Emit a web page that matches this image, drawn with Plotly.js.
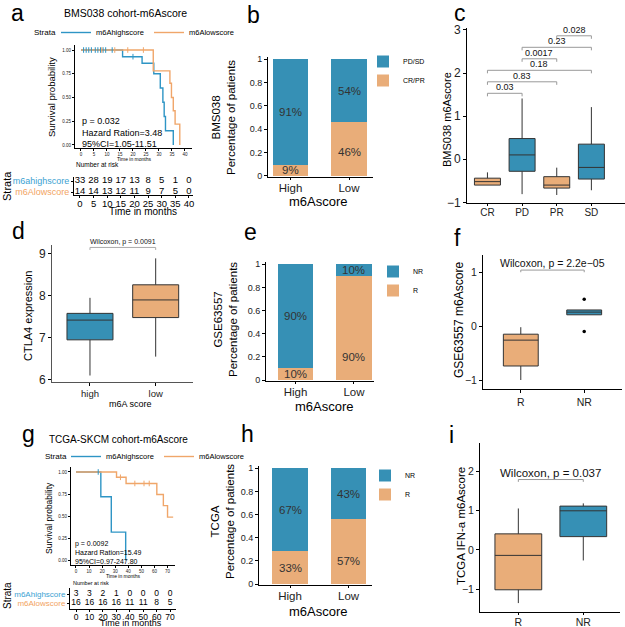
<!DOCTYPE html>
<html><head><meta charset="utf-8">
<script src="https://cdn.plot.ly/plotly-3.0.1.min.js"></script>
<style>html,body{margin:0;padding:0;background:#fff}#chart{width:625px;height:627px}</style>
</head><body><div id="chart"></div>
<script>
// ---------------- data ----------------
// a: BMS038 Kaplan-Meier
const aHighTime=[0,16,23.5,28,30.5,31.5,32,32.5,35.5];
const aHighSurv=[1,0.93,0.86,0.75,0.60,0.45,0.30,0.15,0];
const aLowTime=[0,27.8,34.2,34.8,35.5,36.2,38];
const aLowSurv=[1,0.78,0.65,0.50,0.36,0.22,0];
const aHighCensor=[1,2,3,4,5.5,6.5,7.5,8.5,9.5,12,20];
const aLowCensor=[8,13,18,24];
const aRiskTimes=[0,5,10,15,20,25,30,35,40];
const aRiskHigh=[33,28,19,17,13,8,5,1,0];
const aRiskLow=[14,14,13,12,11,9,7,5,0];
const aStats=['p = 0.032','Hazard Ration=3.48','95%CI=1.05-11.51'];
// g: TCGA-SKCM Kaplan-Meier
const gHighTime=[0,19,27,38];
const gHighSurv=[1,0.72,0.32,0];
const gLowTime=[0,31,38.3,61.8,66.8,70,74.3];
const gLowSurv=[1,0.94,0.87,0.745,0.62,0.49,0.49];
const gHighCensor=[17];
const gLowCensor=[34,45,52,56];
const gRiskTimes=[0,10,20,30,40,50,60,70];
const gRiskHigh=[3,3,2,1,0,0,0,0];
const gRiskLow=[16,16,16,16,11,11,8,5];
const gStats=['p = 0.0092','Hazard Ration=15.49','95%CI=0.97-247.80'];
const kmTicks=[0,0.25,0.5,0.75,1];
const kmTickText=['0.00','0.25','0.50','0.75','1.00'];
// b, e, h: stacked bars
const barCats=['High','Low'];
const bResp=[0.09,0.46], bNon=[0.91,0.54];
const bRespLbl=['9%','46%'], bNonLbl=['91%','54%'];
const eResp=[0.10,0.90], eNon=[0.90,0.10];
const eRespLbl=['10%','90%'], eNonLbl=['90%','10%'];
const hResp=[0.285,0.56], hNon=[0.715,0.44];
const hRespLbl=['33%','57%'], hNonLbl=['67%','43%'];
const pctTicks=[0,0.2,0.4,0.6,0.8,1];
const pctTickText=['0','0.2','0.4','0.6','0.8','1'];
// c: BMS038 m6Ascore by response
const cCats=['CR','PD','PR','SD'];
const cQ1=[-0.60,-0.28,-0.67,-0.46];
const cMed=[-0.52,0.10,-0.60,-0.19];
const cQ3=[-0.44,0.48,-0.405,0.35];
const cLo=[-0.60,-0.81,-0.83,-0.72];
const cHi=[-0.305,1.41,-0.196,1.21];
const cPairs=[['CR','PD'],['CR','PR'],['CR','SD'],['PD','PR'],['PD','SD'],['PR','SD']];
const cPvals=['0.03','0.83','0.18','0.0017','0.23','0.028'];
// d: CTLA4 expression
const dCats=['high','low'];
const dQ1=[6.94,7.47], dMed=[7.41,7.89], dQ3=[7.57,8.25], dLo=[6.09,6.54], dHi=[7.94,8.88];
const dTest='Wilcoxon, p = 0.0091';
// f: GSE63557
const fCats=['R','NR'];
const fQ1=[-0.74,0.21], fMed=[-0.26,0.26], fQ3=[-0.15,0.30], fLo=[-1.0,0.21], fHi=[-0.02,0.30];
const fOutX=['NR','NR'], fOutY=[0.50,-0.10];
const fTest='Wilcoxon, p = 2.2e\u221205';
// i: TCGA IFN-a
const iCats=['R','NR'];
const iQ1=[-1.02,0.34], iMed=[-0.14,1.0], iQ3=[0.41,1.12], iLo=[-1.36,-0.27], iHi=[1.06,1.19];
const iTest='Wilcoxon, p = 0.037';

// ---------------- styling helpers ----------------
const BLUE='#3690B5', ORANGE='#E9AD79', KBLUE='#2E95C5', KORANGE='#F0A66A';
const TBLUE='#3BA2D2', TORANGE='#F2A462';
const FONT='Liberation Sans, Arial, Helvetica, sans-serif';
const W=625,H=627;
const px=x=>x/W, py=y=>1-y/H;
const dX=(a,b)=>[a/W,b/W], dY=(t,b)=>[1-b/H,1-t/H];

function survAt(times,surv,t){let s=surv[0];for(let k=0;k<times.length;k++){if(times[k]<=t)s=surv[k];}return s;}

const traces=[];
const ann=[];

function km(t,s,color,name,xa,ya,leg){
  traces.push({type:'scatter',mode:'lines',x:t,y:s,line:{shape:'hv',color:color,width:1.4},name:name,
    xaxis:xa,yaxis:ya,legend:leg,showlegend:true,hoverinfo:'skip'});
}
function censor(ct,t,s,color,xa,ya){
  traces.push({type:'scatter',mode:'markers',x:ct,y:ct.map(v=>survAt(t,s,v)),
    marker:{symbol:'line-ns-open',size:4,color:color,line:{color:color,width:1}},
    xaxis:xa,yaxis:ya,showlegend:false,hoverinfo:'skip'});
}
function riskRow(times,vals,row,xa,ya,size){
  traces.push({type:'scatter',mode:'text',x:times,y:times.map(()=>row),text:vals.map(String),
    textfont:{family:FONT,size:size,color:'#000'},xaxis:xa,yaxis:ya,showlegend:false,hoverinfo:'skip',cliponaxis:false});
}
function bars(cats,resp,non,respName,nonName,respL,nonL,xa,ya,leg){
  traces.push({type:'bar',x:cats,y:resp,name:respName,marker:{color:ORANGE,line:{width:0}},width:0.6,
    xaxis:xa,yaxis:ya,legend:leg,hoverinfo:'skip'});
  traces.push({type:'bar',x:cats,y:non,name:nonName,marker:{color:BLUE,line:{width:0}},width:0.6,
    xaxis:xa,yaxis:ya,legend:leg,hoverinfo:'skip'});
  cats.forEach((c,k)=>{
    ann.push({xref:xa,yref:ya,x:c,y:Math.min(resp[k]/2,0.2),text:respL[k],showarrow:false,
      font:{family:FONT,size:11.5,color:'#333'}});
    ann.push({xref:xa,yref:ya,x:c,y:resp[k]+non[k]/2,text:nonL[k],showarrow:false,
      font:{family:FONT,size:11.5,color:'#333'}});
  });
}
function box(cat,q1,med,q3,lo,hi,color,xa,ya,width){
  traces.push({type:'box',x:[cat],q1:[q1],median:[med],q3:[q3],lowerfence:[lo],upperfence:[hi],
    fillcolor:color,line:{color:'#333',width:1},whiskerwidth:0,width:width,boxpoints:false,
    xaxis:xa,yaxis:ya,showlegend:false,hoverinfo:'skip'});
}
function bracket(cats,pairs,labels,base,step,drop,xa,ya,fs,col){
  const x=[],y=[];
  pairs.forEach((p,k)=>{
    const lv=base+step*k;
    x.push(p[0],p[0],p[1],p[1],null); y.push(lv-drop,lv,lv,lv-drop,null);
    ann.push({xref:xa,yref:ya,x:(cats.indexOf(p[0])+cats.indexOf(p[1]))/2,y:lv,yanchor:'bottom',
      text:labels[k],showarrow:false,yshift:-1,font:{family:FONT,size:fs,color:'#111'}});
  });
  traces.push({type:'scatter',mode:'lines',x:x,y:y,line:{color:col,width:1},xaxis:xa,yaxis:ya,
    showlegend:false,hoverinfo:'skip',connectgaps:false,cliponaxis:false});
}
function txt(x,y,text,size,extra){
  ann.push(Object.assign({xref:'paper',yref:'paper',x:px(x),y:py(y),text:text,showarrow:false,
    xanchor:'center',yanchor:'middle',font:{family:FONT,size:size,color:'#000'}},extra||{}));
}
function ax(domain,range,extra){
  return Object.assign({domain:domain,range:range,showline:true,linecolor:'#000',linewidth:1,
    ticks:'outside',ticklen:3,tickwidth:1,tickcolor:'#000',showgrid:false,zeroline:false,
    fixedrange:true,tickfont:{family:FONT,size:10,color:'#222'}},extra||{});
}

// ---------------- a ----------------
km(aHighTime,aHighSurv,KBLUE,'m6Ahighscore','x','y','legend');
km(aLowTime,aLowSurv,KORANGE,'m6Alowscore','x','y','legend');
censor(aHighCensor,aHighTime,aHighSurv,KBLUE,'x','y');
censor(aLowCensor,aLowTime,aLowSurv,KORANGE,'x','y');
riskRow(aRiskTimes,aRiskHigh,1,'x2','y2',9.5);
riskRow(aRiskTimes,aRiskLow,0,'x2','y2',9.5);
// ---------------- g ----------------
km(gHighTime,gHighSurv,KBLUE,'m6Ahighscore','x8','y8','legend4');
km(gLowTime,gLowSurv,KORANGE,'m6Alowscore','x8','y8','legend4');
censor(gHighCensor,gHighTime,gHighSurv,KBLUE,'x8','y8');
censor(gLowCensor,gLowTime,gLowSurv,KORANGE,'x8','y8');
riskRow(gRiskTimes,gRiskHigh,1,'x9','y9',8.5);
riskRow(gRiskTimes,gRiskLow,0,'x9','y9',8.5);
// ---------------- bars ----------------
bars(barCats,bResp,bNon,'CR/PR','PD/SD',bRespLbl,bNonLbl,'x3','y3','legend2');
bars(barCats,eResp,eNon,'R','NR',eRespLbl,eNonLbl,'x6','y6','legend3');
bars(barCats,hResp,hNon,'R','NR',hRespLbl,hNonLbl,'x10','y10','legend5');
// ---------------- c ----------------
cCats.forEach((c,k)=>box(c,cQ1[k],cMed[k],cQ3[k],cLo[k],cHi[k],(k%2===0)?ORANGE:BLUE,'x4','y4',0.75));
bracket(cCats,cPairs,cPvals,1.53,0.267,0.07,'x4','y4',9,'#999');
// ---------------- d ----------------
dCats.forEach((c,k)=>box(c,dQ1[k],dMed[k],dQ3[k],dLo[k],dHi[k],k===0?BLUE:ORANGE,'x5','y5',0.7));
bracket(dCats,[['high','low']],[dTest],9.14,0,0.06,'x5','y5',7,'#aaa');
// ---------------- f ----------------
fCats.forEach((c,k)=>box(c,fQ1[k],fMed[k],fQ3[k],fLo[k],fHi[k],k===0?ORANGE:BLUE,'x7','y7',0.55));
traces.push({type:'scatter',mode:'markers',x:fOutX,y:fOutY,marker:{size:3.5,color:'#000'},
  xaxis:'x7',yaxis:'y7',showlegend:false,hoverinfo:'skip'});
bracket(fCats,[['R','NR']],[fTest],1.04,0,0.04,'x7','y7',10.5,'#999');
// ---------------- i ----------------
iCats.forEach((c,k)=>box(c,iQ1[k],iMed[k],iQ3[k],iLo[k],iHi[k],k===0?ORANGE:BLUE,'x11','y11',0.72));
bracket(iCats,[['R','NR']],[iTest],1.80,0,0.06,'x11','y11',11.5,'#999');

// ---------------- texts ----------------
const letters=[['a',17,13],['b',253,15],['c',460,13],['d',18,231],['e',250,232],['f',457,238],['g',29,434],['h',247,434],['i',451,435]];
letters.forEach(l=>txt(l[1],l[2],l[0],23));
txt(125,13,'BMS038 cohort-m6Ascore',10.5);
txt(118,439,'TCGA-SKCM cohort-m6Ascore',10);
txt(45,32,'Strata',8);
txt(56,457,'Strata',8);
txt(80,132.5,aStats.join('<br>'),9,{xanchor:'left',align:'left'});
txt(73,552.5,gStats.join('<br>'),7,{xanchor:'left',align:'left'});
txt(74,164,'Number at risk',6.5,{xanchor:'left'});
txt(71,583,'Number at risk',5.5,{xanchor:'left'});
txt(7,186,'Strata',11,{textangle:-90});
txt(7,596,'Strata',10,{textangle:-90});
// axis titles
txt(52,97,'Survival probability',9.5,{textangle:-90});
txt(134,158.5,'Time in months',5);
txt(143,211,'Time in months',10);
txt(49,518,'Survival probability',8.5,{textangle:-90});
txt(123,576,'Time in months',5);
txt(131,623,'Time in months',9);
txt(223,118,'BMS038<br>Percentage of patients',11.5,{textangle:-90});
txt(318,201,'m6Ascore',13);
txt(225,320,'GSE63557<br>Percentage of patients',11.5,{textangle:-90});
txt(324,406,'m6Ascore',13);
txt(222,522,'TCGA<br>Percentage of patients',11.5,{textangle:-90});
txt(318,611,'m6Ascore',13);
txt(447,119,'BMS038 m6Ascore',11,{textangle:-90});
txt(28,316,'CTLA4 expression',11,{textangle:-90});
txt(130,404,'m6A score',9);
txt(459,320,'GSE63557 m6Ascore',12,{textangle:-90});
txt(461,526,'TCGA IFN-a m6Ascore',11.5,{textangle:-90});

const catAx=cats=>({type:'category',categoryorder:'array',categoryarray:cats});
const rowText=(hi,lo)=>[`<span style="color:${TBLUE}">${hi}</span>`,`<span style="color:${TORANGE}">${lo}</span>`];
const tight={ticklen:2,ticklabelstandoff:-2};
const kmLegend=(x,y)=>({x:px(x),y:py(y),xanchor:'left',yanchor:'top',orientation:'h',bgcolor:'rgba(0,0,0,0)',
    font:{family:FONT,size:7.5,color:'#000'},itemwidth:30,entrywidth:48,entrywidthmode:'pixels'});
const barLegend=(x,y)=>({x:px(x),y:py(y),xanchor:'left',yanchor:'top',traceorder:'reversed',bgcolor:'rgba(0,0,0,0)',
    font:{family:FONT,size:7,color:'#000'},tracegroupgap:0});

const layout={
  width:W,height:H,margin:{l:0,r:0,t:0,b:0,pad:0},paper_bgcolor:'#fff',plot_bgcolor:'rgba(0,0,0,0)',
  font:{family:FONT,color:'#000'},barmode:'stack',boxmode:'overlay',showlegend:true,hovermode:false,
  annotations:ann,
  xaxis:ax(dX(75,192),[-2.3,42.7],{anchor:'y',tickvals:aRiskTimes,tickfont:{family:FONT,size:4.5,color:'#222'},ticklen:2}),
  yaxis:ax(dY(45,148),[-0.032,1.053],{anchor:'x',tickvals:kmTicks,ticktext:kmTickText,tickfont:{family:FONT,size:4.5,color:'#222'},ticklen:2}),
  xaxis2:ax(dX(74,193),[-2.2,41.5],Object.assign({anchor:'y2',tickvals:aRiskTimes,tickfont:{family:FONT,size:9.5,color:'#000'}},tight)),
  yaxis2:ax(dY(177,195),[-0.273,1.364],{anchor:'x2',tickvals:[1,0],ticktext:rowText('m6ahighscore','m6Alowscore'),tickfont:{family:FONT,size:9},ticklen:2}),
  xaxis3:ax(dX(268,373),[-0.385,1.41],Object.assign(catAx(barCats),{anchor:'y3',tickfont:{family:FONT,size:11.5,color:'#222'}},tight)),
  yaxis3:ax(dY(57,177),[-0.011,1.02],{anchor:'x3',tickvals:pctTicks,ticktext:pctTickText,tickfont:{family:FONT,size:9,color:'#222'}}),
  xaxis4:ax(dX(467,625),[-0.59,3.97],Object.assign(catAx(cCats),{anchor:'y4',tickfont:{family:FONT,size:10,color:'#222'}},tight)),
  yaxis4:ax(dY(28,203),[-1.016,3.046],{anchor:'x4',tickvals:[-1,0,1,2,3],tickfont:{family:FONT,size:12,color:'#222'}}),
  xaxis5:ax(dX(52,193),[-0.578,1.568],Object.assign(catAx(dCats),{anchor:'y5',tickfont:{family:FONT,size:9.5,color:'#222'},linecolor:'#555'})),
  yaxis5:ax(dY(245,382),[5.936,9.198],{anchor:'x5',tickvals:[6,7,8,9],tickfont:{family:FONT,size:12,color:'#222'},linecolor:'#555'}),
  xaxis6:ax(dX(266,374),[-0.504,1.342],Object.assign(catAx(barCats),{anchor:'y6',tickfont:{family:FONT,size:11.5,color:'#222'}},tight)),
  yaxis6:ax(dY(262,381),[-0.0086,1.02],{anchor:'x6',tickvals:pctTicks,ticktext:pctTickText,tickfont:{family:FONT,size:9,color:'#222'}}),
  xaxis7:ax(dX(483,622),[-0.596,1.596],Object.assign(catAx(fCats),{anchor:'y7',tickfont:{family:FONT,size:10.5,color:'#222'}})),
  yaxis7:ax(dY(255,389),[-1.167,1.32],{anchor:'x7',tickvals:[-1,0,1],tickfont:{family:FONT,size:10.5,color:'#222'}}),
  xaxis8:ax(dX(71,175),[-3.8,75.7],{anchor:'y8',tickvals:gRiskTimes,tickfont:{family:FONT,size:4.5,color:'#222'},ticklen:2}),
  yaxis8:ax(dY(467,565),[-0.051,1.056],{anchor:'x8',tickvals:kmTicks,ticktext:kmTickText,tickfont:{family:FONT,size:4.5,color:'#222'},ticklen:2}),
  xaxis9:ax(dX(70,176),[-4.47,74.4],Object.assign({anchor:'y9',tickvals:gRiskTimes,tickfont:{family:FONT,size:8.5,color:'#000'}},tight)),
  yaxis9:ax(dY(588,609),[-0.667,1.667],{anchor:'x9',tickvals:[1,0],ticktext:rowText('m6Ahighscore','m6Alowscore'),tickfont:{family:FONT,size:8},ticklen:2}),
  xaxis10:ax(dX(259,372),[-0.53,1.40],Object.assign(catAx(barCats),{anchor:'y10',tickfont:{family:FONT,size:11.5,color:'#222'}},tight)),
  yaxis10:ax(dY(466,585),[-0.0086,1.02],{anchor:'x10',tickvals:pctTicks,ticktext:pctTickText,tickfont:{family:FONT,size:9,color:'#222'}}),
  xaxis11:ax(dX(480,620),[-0.59,1.565],Object.assign(catAx(iCats),{anchor:'y11',tickfont:{family:FONT,size:10.5,color:'#222'}},tight)),
  yaxis11:ax(dY(443,612),[-1.588,2.734],{anchor:'x11',tickvals:[-1,0,1,2],tickfont:{family:FONT,size:10.5,color:'#222'}}),
  legend:kmLegend(56,18),
  legend4:kmLegend(66,442),
  legend2:barLegend(363,47),
  legend3:barLegend(373,257),
  legend5:barLegend(365,461)
};
Plotly.newPlot('chart',traces,layout,{staticPlot:true,displayModeBar:false});
</script></body></html>
